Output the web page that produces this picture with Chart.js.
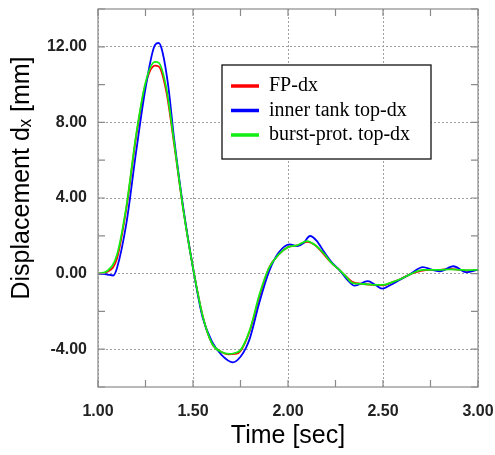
<!DOCTYPE html>
<html>
<head>
<meta charset="utf-8">
<script src="https://cdn.jsdelivr.net/npm/chart.js@4.4.0/dist/chart.umd.min.js"></script>
<style>
  html, body { margin: 0; padding: 0; background: #fff; }
  #wrap { width: 495px; height: 455px; }
</style>
</head>
<body>
<div id="wrap"><canvas id="myChart" width="495" height="455"></canvas></div>
<script>
// values (time in sec, displacement in mm)
const fpTime = [1.00, 1.05, 1.10, 1.15, 1.20, 1.25, 1.30, 1.32, 1.36, 1.40, 1.45, 1.50, 1.55, 1.60, 1.65, 1.685, 1.72, 1.75, 1.80, 1.85, 1.90, 1.95, 2.00, 2.05, 2.10, 2.15, 2.19, 2.23, 2.27, 2.30, 2.34, 2.40, 2.45, 2.50, 2.55, 2.59, 2.65, 2.70, 2.75, 2.80, 2.85, 2.90, 2.95, 3.00];
const fpDx = [0.0, 0.1, 0.8, 3.5, 7.2, 10.0, 11.0, 10.95, 9.6, 6.9, 3.3, 0.3, -2.2, -3.7, -4.15, -4.27, -4.25, -4.1, -3.0, -1.2, 0.3, 1.0, 1.4, 1.5, 1.68, 1.45, 1.0, 0.55, 0.2, -0.1, -0.45, -0.55, -0.6, -0.62, -0.45, -0.3, 0.0, 0.15, 0.2, 0.2, 0.25, 0.2, 0.15, 0.2];

const innerTime = [1.00, 1.05, 1.08, 1.10, 1.15, 1.20, 1.25, 1.30, 1.32, 1.34, 1.37, 1.40, 1.45, 1.50, 1.55, 1.60, 1.65, 1.71, 1.75, 1.78, 1.80, 1.85, 1.90, 1.95, 2.01, 2.05, 2.08, 2.116, 2.15, 2.19, 2.23, 2.27, 2.31, 2.35, 2.42, 2.46, 2.495, 2.54, 2.59, 2.64, 2.71, 2.76, 2.80, 2.87, 2.94, 3.00];
const innerDx = [0.0, -0.05, -0.1, 0.3, 2.7, 6.4, 9.8, 12.1, 12.2, 11.7, 9.9, 7.2, 3.4, 0.3, -2.3, -3.6, -4.3, -4.7, -4.4, -3.9, -3.4, -1.5, 0.1, 1.1, 1.55, 1.45, 1.6, 1.99, 1.75, 1.15, 0.6, 0.2, -0.3, -0.64, -0.4, -0.6, -0.8, -0.6, -0.32, -0.05, 0.34, 0.2, 0.12, 0.39, 0.07, 0.21];

const burstTime = [1.00, 1.05, 1.10, 1.15, 1.20, 1.25, 1.30, 1.32, 1.36, 1.40, 1.45, 1.50, 1.55, 1.60, 1.65, 1.69, 1.72, 1.75, 1.80, 1.85, 1.90, 1.95, 2.00, 2.05, 2.10, 2.15, 2.19, 2.23, 2.27, 2.30, 2.34, 2.40, 2.45, 2.50, 2.55, 2.59, 2.65, 2.71, 2.75, 2.80, 2.85, 2.90, 2.95, 3.00];
const burstDx = [0.0, 0.15, 1.0, 3.6, 7.3, 10.1, 11.2, 11.15, 9.8, 7.0, 3.3, 0.3, -2.2, -3.7, -4.15, -4.25, -4.2, -4.05, -2.95, -1.1, 0.3, 1.0, 1.4, 1.5, 1.72, 1.45, 1.05, 0.55, 0.2, -0.1, -0.5, -0.55, -0.6, -0.6, -0.45, -0.3, 0.0, 0.2, 0.2, 0.2, 0.22, 0.2, 0.18, 0.2];

const seriesNames = ["FP-dx", "inner tank top-dx", "burst-prot. top-dx"];
const seriesColors = ["#ff0000", "#0000ff", "#11ee11"];

const xLabels = [1.0, 1.5, 2.0, 2.5, 3.0];
const yLabels = [-4, 0, 4, 8, 12];
const yTitle = "Displacement dₓ [mm]";

function pts(xs, ys) {
  return xs.map((x, i) => ({ x: x, y: ys[i] }));
}
function isLabel(list, v) {
  return list.some(l => Math.abs(l - v) < 1e-6);
}
// drop the extra room chart.js keeps for edge labels, layout.padding decides instead
function noEdgePad(s) {
  s.paddingLeft = 0; s.paddingRight = 0; s.paddingTop = 0; s.paddingBottom = 0;
}

// frame, inward minor ticks, y title and legend box
const framePlugin = {
  id: "frame",
  afterDraw(chart) {
    const ctx = chart.ctx;
    const a = chart.chartArea;
    const xs = chart.scales.x, ys = chart.scales.y;
    ctx.save();
    ctx.strokeStyle = "#8a8a8a";
    ctx.lineWidth = 1.2;
    ctx.strokeRect(a.left, a.top, a.right - a.left, a.bottom - a.top);
    ctx.beginPath();
    xs.ticks.forEach(t => {
      const px = xs.getPixelForValue(t.value);
      ctx.moveTo(px, a.bottom); ctx.lineTo(px, a.bottom - 7);
      ctx.moveTo(px, a.top); ctx.lineTo(px, a.top + 7);
    });
    ys.ticks.forEach(t => {
      const py = ys.getPixelForValue(t.value);
      ctx.moveTo(a.left, py); ctx.lineTo(a.left + 7, py);
      ctx.moveTo(a.right, py); ctx.lineTo(a.right - 7, py);
    });
    ctx.stroke();

    // y title (sits a bit above the axis centre in the original)
    ctx.save();
    ctx.translate(22, 178);
    ctx.rotate(-Math.PI / 2);
    ctx.font = "25px 'Liberation Sans', Arial, sans-serif";
    ctx.fillStyle = "#000";
    ctx.textAlign = "center";
    ctx.textBaseline = "middle";
    ctx.fillText(yTitle, 0, 0);
    ctx.restore();

    // legend
    const lx = 222, ly = 65, lw = 209, lh = 94;
    ctx.fillStyle = "#fff";
    ctx.fillRect(lx, ly, lw, lh);
    ctx.strokeStyle = "#111";
    ctx.lineWidth = 1.3;
    ctx.strokeRect(lx, ly, lw, lh);
    ctx.font = "20px 'Liberation Serif', 'Times New Roman', serif";
    ctx.textBaseline = "middle";
    chart.data.datasets.forEach((ds, i) => {
      const yy = ly + 21 + i * 24.5;
      ctx.strokeStyle = ds.borderColor;
      ctx.lineWidth = 3.5;
      ctx.beginPath();
      ctx.moveTo(lx + 9, yy); ctx.lineTo(lx + 37, yy);
      ctx.stroke();
      ctx.fillStyle = "#000";
      ctx.fillText(ds.label, lx + 47, yy);
    });
    ctx.restore();
  }
};

const ctx = document.getElementById("myChart");

new Chart(ctx, {
  type: "line",
  data: {
    datasets: [
      { label: seriesNames[0], data: pts(fpTime, fpDx), borderColor: seriesColors[0], order: 2 },
      { label: seriesNames[1], data: pts(innerTime, innerDx), borderColor: seriesColors[1], order: 1 },
      { label: seriesNames[2], data: pts(burstTime, burstDx), borderColor: seriesColors[2], order: 0 }
    ]
  },
  options: {
    responsive: false,
    animation: false,
    layout: { autoPadding: false, padding: { top: 9, right: 17, left: 0, bottom: 0 } },
    elements: {
      point: { radius: 0 },
      line: { borderWidth: 1.8, cubicInterpolationMode: "monotone", fill: false }
    },
    plugins: { legend: { display: false }, tooltip: { enabled: false } },
    scales: {
      x: {
        type: "linear",
        min: 1, max: 3,
        afterFit: s => { s.height = 68; noEdgePad(s); },
        ticks: {
          stepSize: 0.25,
          autoSkip: false,
          maxRotation: 0,
          padding: 15,
          color: "#222",
          font: { family: "'Liberation Sans', Arial, sans-serif", size: 16, weight: "bold" },
          callback: v => isLabel(xLabels, v) ? v.toFixed(2) : ""
        },
        grid: {
          drawTicks: false,
          color: c => (c.tick && isLabel(xLabels, c.tick.value)) ? "#a0a0a0" : "rgba(0,0,0,0)"
        },
        border: { display: false, dash: [2, 2] },
        title: {
          display: true,
          text: "Time [sec]",
          color: "#000",
          padding: { top: 3 },
          font: { family: "'Liberation Sans', Arial, sans-serif", size: 25 }
        }
      },
      y: {
        min: -6, max: 14,
        afterFit: s => { s.width = 98; noEdgePad(s); },
        ticks: {
          stepSize: 2,
          autoSkip: false,
          padding: 11,
          color: "#222",
          font: { family: "'Liberation Sans', Arial, sans-serif", size: 16, weight: "bold" },
          callback: v => isLabel(yLabels, v) ? v.toFixed(2) : ""
        },
        grid: {
          drawTicks: false,
          color: c => (c.tick && isLabel(yLabels, c.tick.value)) ? "#a0a0a0" : "rgba(0,0,0,0)"
        },
        border: { display: false, dash: [2, 2] },
        title: { display: false }
      }
    }
  },
  plugins: [framePlugin]
});
</script>
</body>
</html>
